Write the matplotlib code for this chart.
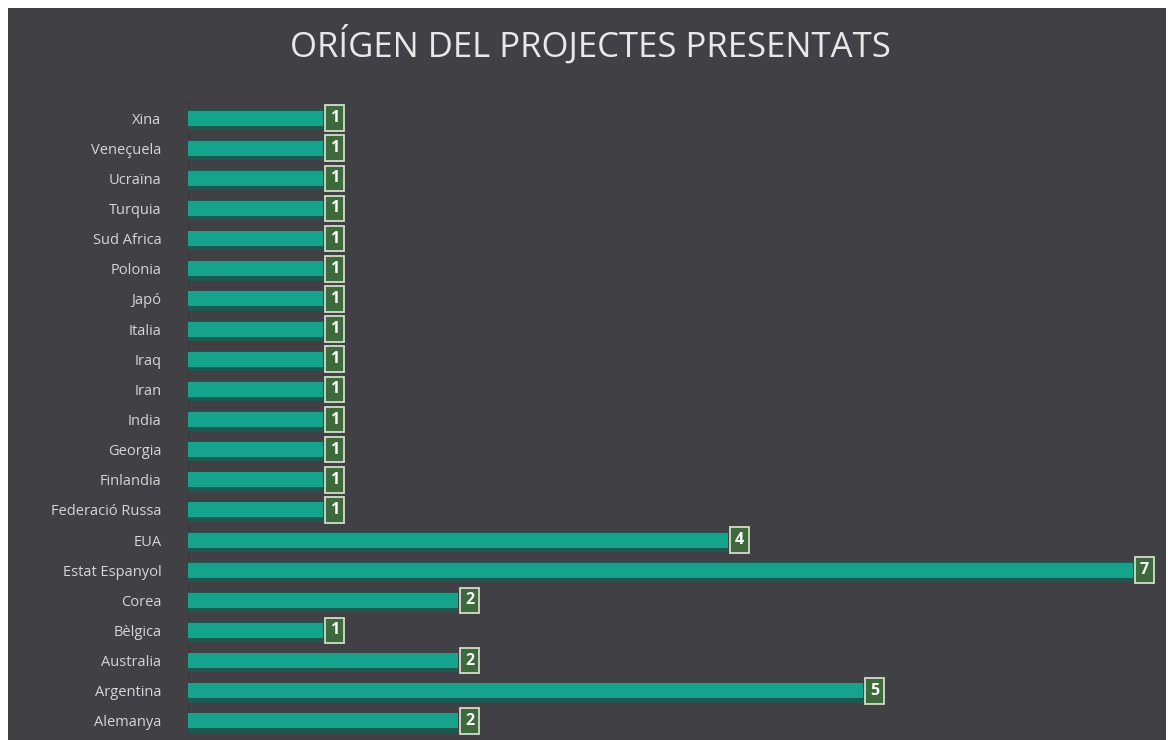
import matplotlib
matplotlib.use('Agg')
import matplotlib.pyplot as plt
import matplotlib.patches as mpatches

countries = ['Alemanya', 'Argentina', 'Australia', 'Bèlgica', 'Corea', 'Estat Espanyol',
             'EUA', 'Federació Russa', 'Finlandia', 'Georgia', 'India', 'Iran', 'Iraq',
             'Italia', 'Japó', 'Polonia', 'Sud Africa', 'Turquia', 'Ucraïna', 'Veneçuela', 'Xina']
projects = [2, 5, 2, 1, 2, 7, 4, 1, 1, 1, 1, 1, 1, 1, 1, 1, 1, 1, 1, 1, 1]

BG = '#404045'
W, H = 1168, 740
fig = plt.figure(figsize=(W / 100, H / 100), dpi=100)
fig.patch.set_facecolor('white')
fig.patches.append(mpatches.Rectangle((8 / W, 0), (W - 10) / W, (H - 8) / H,
                                      transform=fig.transFigure, facecolor=BG,
                                      edgecolor='none', zorder=-10))

ax = fig.add_axes([188 / W, 4 / H, (W - 188) / W, 633 / H])
ax.set_facecolor('none')
ypos = list(range(len(countries)))

# shadow + bar
ax.barh([y - 0.06 for y in ypos], projects, height=0.66, color='#1c5a50', zorder=1)
ax.barh(ypos, projects, height=0.5, color='#14a38b', zorder=2)

for y, v in zip(ypos, projects):
    ax.annotate(str(v), (v, y), xytext=(5, 0), textcoords='offset points',
                ha='left', va='center', color='white', fontsize=11.5, fontweight='bold',
                family='Open Sans', zorder=4,
                bbox=dict(boxstyle='square,pad=0.3', fc='#3c6a3b', ec='#d4dccb', lw=1.3))

ax.set_xlim(0, (W - 188) / 135)
ax.set_ylim(-0.5, len(countries) - 0.5)
ax.set_yticks(ypos)
ax.set_yticklabels(countries, family='Open Sans', fontsize=10.5, color='#d6d6d6')
ax.tick_params(axis='y', length=0, pad=19)
ax.set_xticks([])
for s in ax.spines.values():
    s.set_visible(False)
ax.axvline(0, color='#36363a', lw=1.5, zorder=0)

fig.text(590 / W, 1 - 45 / H, 'ORÍGEN DEL PROJECTES PRESENTATS', ha='center', va='center',
         color='#e8e8e8', fontsize=25, family='Open Sans')

fig.savefig('out.png', dpi=100, facecolor='white')
